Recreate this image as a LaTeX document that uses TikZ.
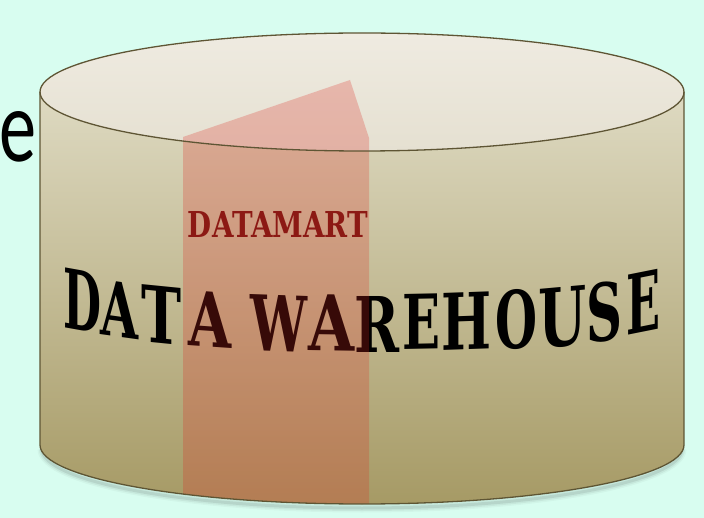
\documentclass[tikz,border=0pt]{standalone}
\usepackage{fontspec}
\setmainfont{DejaVu Serif}
\newfontfamily\carl{Carlito}
\usepackage{graphicx}
\definecolor{bgc}{RGB}{216,253,240}
\definecolor{bodytop}{RGB}{230,227,207}
\definecolor{bodybot}{RGB}{166,154,101}
\definecolor{lidtop}{RGB}{239,235,225}
\definecolor{lidbot}{RGB}{229,224,209}
\definecolor{edgec}{RGB}{94,85,52}
\definecolor{stripc}{RGB}{220,40,32}
\definecolor{dmred}{RGB}{140,25,20}
\tikzset{
  letter/.style={inner sep=0pt, outer sep=0pt},
  edgeline/.style={draw=edgec, line width=1.3pt}
}
\newcommand\cylpath{(40,92) arc[start angle=180,end angle=360,x radius=322,y radius=59] -- (684,445) arc[start angle=0,end angle=180,x radius=322,y radius=59] -- cycle}
\begin{document}
\begin{tikzpicture}[x=1pt,y=-1pt]
\fill[bgc] (0,0) rectangle (704,518);
\useasboundingbox (0,0) rectangle (704,518);
% partial word behind the cylinder
\node[letter] (e) at (18.5,137) {\resizebox{37pt}{50pt}{\carl e}};
% soft shadow
\foreach \wd/\op in {9/0.03,6/0.05,3/0.08}
  \draw[black, opacity=\op, line width=\wd pt] (42,449) arc[start angle=180,end angle=0,x radius=320,y radius=59];
% body
\shade[top color=bodytop, bottom color=bodybot] \cylpath;
% lid
\shade[top color=lidtop, bottom color=lidbot] (362,92) ellipse[x radius=322, y radius=59];
% main text, one letter per node, warped along the drum
\foreach \L/\cx/\w/\cy/\h/\s [count=\i] in {D/82/38/301/60/-0.18,A/120/38/310/55/-0.14,T/161/40/315/57/-0.1,A/210/43/320/55/-0.07,W/279/57/323/56/-0.035,A/331/46/323/56/-0.015,R/377/45/324/56/0,E/421/38/322/55/0.02,H/467/50/321/57/0.035,O/516/42/320/59/0.05,U/562/48/317/59/0.09,S/605/36/312/59/0.14,E/643/34/302/60/0.2}
  \node[letter, yslant=\s] (wh\i) at (\cx,\cy) {\resizebox{\w pt}{\h pt}{\bfseries\L}};
% datamart strip (translucent, over the text)
\begin{scope}
  \clip \cylpath;
  \fill[stripc, opacity=0.25] (183,137) -- (350,80) -- (369,138) -- (369,520) -- (183,520) -- cycle;
\end{scope}
\node[letter] (dm) at (278,225) {\resizebox{180pt}{26pt}{\color{dmred}\bfseries DATAMART}};
% outlines
\draw[edgeline] \cylpath;
\draw[edgeline] (40,92) arc[start angle=180,end angle=0,x radius=322,y radius=59];
\end{tikzpicture}
\end{document}
